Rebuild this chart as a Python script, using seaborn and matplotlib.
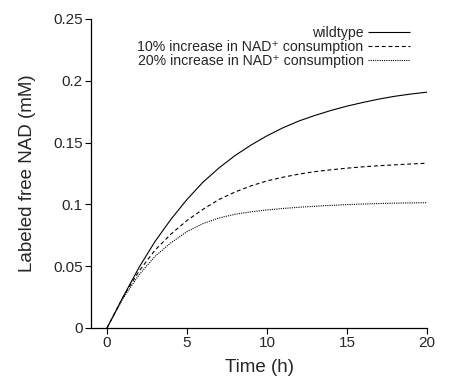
import matplotlib
matplotlib.use("Agg")
import matplotlib.pyplot as plt
import seaborn as sns
import pandas as pd

time_h = [0, 1, 2, 3, 4, 5, 6, 7, 8, 9, 10, 11, 12, 13, 14, 15, 16, 17, 18, 19, 20]
wildtype = [0, 0.025, 0.049, 0.070, 0.088, 0.104, 0.118, 0.1295, 0.1395, 0.148, 0.1555,
            0.162, 0.1675, 0.172, 0.176, 0.1795, 0.1825, 0.1852, 0.1875, 0.1893, 0.1908]
inc10 = [0, 0.025, 0.046, 0.063, 0.076, 0.087, 0.096, 0.104, 0.110, 0.115, 0.119,
         0.122, 0.1245, 0.1265, 0.128, 0.1293, 0.1304, 0.1313, 0.132, 0.1327, 0.1333]
inc20 = [0, 0.024, 0.043, 0.058, 0.069, 0.078, 0.0845, 0.089, 0.092, 0.094, 0.0955,
         0.0967, 0.0977, 0.0985, 0.0992, 0.0998, 0.1003, 0.1007, 0.101, 0.1012, 0.1014]
labels = ["wildtype", "10% increase in NAD\u207a consumption", "20% increase in NAD\u207a consumption"]
x_ticks = [0, 5, 10, 15, 20]
y_ticks = [0, 0.05, 0.1, 0.15, 0.2, 0.25]
y_tick_labels = ["0", "0.05", "0.1", "0.15", "0.2", "0.25"]

sns.set_style("ticks")
plt.rcParams['font.family'] = ['Liberation Sans', 'DejaVu Sans']

fig = plt.figure(figsize=(4.51, 3.79), dpi=100)
ax = fig.add_axes([0.2018, 0.1346, 0.745, 0.8153])

series = [wildtype, inc10, inc20]
styles = [(0, ()), (0, (3.5, 2.5)), (0, (1, 1))]
for vals, lab, ls in zip(series, labels, styles):
    df = pd.DataFrame({"t": time_h, "v": vals})
    sns.lineplot(data=df, x="t", y="v", ax=ax, color="black", linewidth=0.8,
                 linestyle=ls, label=lab)

ax.set_xlim(-1, 20)
ax.set_ylim(0, 0.25)
ax.set_xticks(x_ticks)
ax.set_yticks(y_ticks)
ax.set_yticklabels(y_tick_labels)
ax.tick_params(axis='both', labelsize=11, length=4, width=0.8, color='black', pad=2)
for s in ["top", "right"]:
    ax.spines[s].set_visible(False)
for s in ["left", "bottom"]:
    ax.spines[s].set_linewidth(0.9)
    ax.spines[s].set_color("black")
ax.set_xlabel("Time (h)", fontsize=13.5, labelpad=6)
ax.set_ylabel("Labeled free NAD (mM)", fontsize=13.5, labelpad=12)

leg = ax.legend(loc="upper right", bbox_to_anchor=(0.965, 0.995), frameon=False,
                markerfirst=False, fontsize=10.2, handlelength=2.95, handletextpad=0.3,
                labelspacing=0.0, borderaxespad=0)

fig.savefig("out.png", dpi=100)
